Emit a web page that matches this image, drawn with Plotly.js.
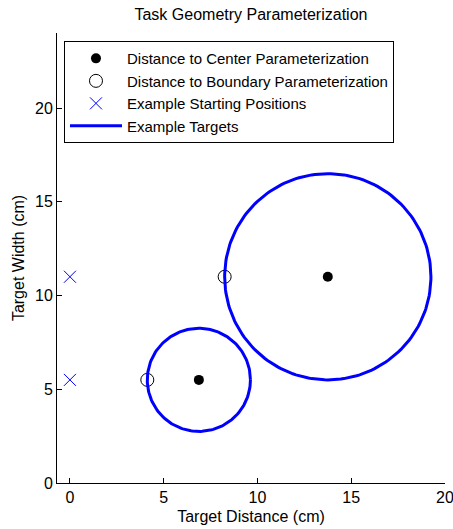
<!DOCTYPE html>
<html>
<head>
<meta charset="utf-8">
<script src="https://cdn.plot.ly/plotly-3.0.1.min.js"></script>
<style>html,body{margin:0;padding:0;background:#fff;}#chart{width:453px;height:529px;}</style>
</head>
<body>
<div id="chart"></div>
<script>
// Target centers (distance, width) and widths
const targetDistance = [6.875, 13.75];
const targetWidth = [5.5, 11];
const targetCenterY = [5.5, 11];
// Boundary distances
const boundaryDistance = [4.125, 8.25];
// Starting positions
const startX = [0, 0];
const startY = [5.5, 11];
const xTicks = [0, 5, 10, 15, 20];
const yTicks = [0, 5, 10, 15, 20];

// Build circle outlines from center and width (diameter)
const cx = [], cy = [];
for (let k = 0; k < targetDistance.length; k++) {
  const r = targetWidth[k] / 2;
  for (let i = 0; i <= 200; i++) {
    const t = 2 * Math.PI * i / 200;
    cx.push(targetDistance[k] + r * Math.cos(t));
    cy.push(targetCenterY[k] + r * Math.sin(t));
  }
  cx.push(null); cy.push(null);
}

const font = {family: 'Liberation Sans, Arial, sans-serif', size: 16, color: '#000'};
const legendFont = {family: 'Liberation Sans, Arial, sans-serif', size: 15, color: '#000'};

const traces = [
  {x: targetDistance, y: targetCenterY, mode: 'markers', type: 'scatter',
   name: 'Distance to Center Parameterization',
   marker: {symbol: 'circle', size: 10, color: '#000'}},
  {x: boundaryDistance, y: targetCenterY, mode: 'markers', type: 'scatter',
   name: 'Distance to Boundary Parameterization',
   marker: {symbol: 'circle-open', size: 13, color: '#000', line: {width: 1, color: '#000'}}},
  {x: startX, y: startY, mode: 'markers', type: 'scatter',
   name: 'Example Starting Positions',
   marker: {symbol: 'x-thin-open', size: 12, color: '#0000ff', line: {width: 1, color: '#0000ff'}}},
  {x: cx, y: cy, mode: 'lines', type: 'scatter', name: 'Example Targets',
   line: {color: '#0000ff', width: 3}, connectgaps: false}
];

const layout = {
  width: 453, height: 529,
  margin: {l: 57, r: 8, t: 33, b: 46},
  paper_bgcolor: '#fff', plot_bgcolor: '#fff',
  font: font,
  showlegend: true,
  title: {text: 'Task Geometry Parameterization', font: {family: font.family, size: 16, color: '#000'},
          x: 0.554, xanchor: 'center', y: 0.972, yanchor: 'middle'},
  xaxis: {range: [-0.69, 20], tickvals: xTicks, ticktext: xTicks.map(String),
          ticklabeloverflow: 'allow',
          showgrid: false, zeroline: false, showline: true, linecolor: '#000', linewidth: 1,
          ticks: 'inside', ticklen: 5, tickcolor: '#000', tickfont: font,
          title: {text: 'Target Distance (cm)', font: font, standoff: 5}},
  yaxis: {range: [0, 24], tickvals: yTicks, ticktext: yTicks.map(String),
          ticklabeloverflow: 'allow',
          showgrid: false, zeroline: false, showline: true, linecolor: '#000', linewidth: 1,
          ticks: 'inside', ticklen: 5, tickcolor: '#000', tickfont: font,
          title: {text: 'Target Width (cm)', font: font, standoff: 6}},
  legend: {x: 0.018, y: 0.982, xanchor: 'left', yanchor: 'top',
           bgcolor: '#fff', bordercolor: '#000', borderwidth: 1,
           font: legendFont, itemwidth: 52, tracegroupgap: 0}
};

Plotly.newPlot('chart', traces, layout, {displayModeBar: false, staticPlot: true});
</script>
</body>
</html>
